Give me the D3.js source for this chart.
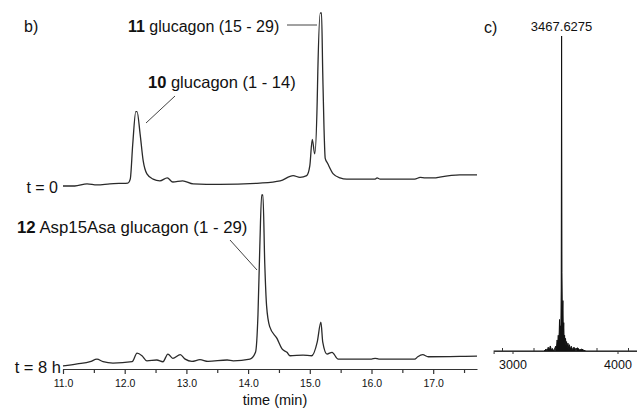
<!DOCTYPE html>
<html><head><meta charset="utf-8">
<script src="https://cdn.jsdelivr.net/npm/d3@7"></script>
<style>
html,body{margin:0;padding:0;background:#fff;}
svg text{font-family:"Liberation Sans",Arial,Helvetica,sans-serif;fill:#111;}
</style></head>
<body>
<svg id="chart" width="637" height="408"></svg>
<script>
// ---------- DATA ----------
// HPLC trace t = 0 : retention time (min) and relative absorbance
const t0Time = [11.0,11.19,11.39,11.55,11.76,11.92,12.05,12.09,12.13,12.18,12.20,12.25,12.30,12.36,12.46,12.57,12.69,12.78,12.94,13.11,13.54,14.19,14.52,14.73,14.84,14.95,15.0,15.04,15.08,15.12,15.13,15.17,15.19,15.21,15.23,15.25,15.29,15.38,15.49,15.60,16.06,16.09,16.14,16.70,16.79,16.87,17.03,17.08,17.43,17.71];
const t0Value = [0,0,1.2,0.6,1.2,1.5,1.7,4,24,43,43,30,14.5,7,4,3,4.7,2.3,3,1.2,0.9,1.7,3,6,5,6,11.6,27,18.6,49,66,100,100,65,34,16,13,7,4.7,4,4,4.7,4,4,5,4.7,4.7,5,6.4,6.4];
// HPLC trace t = 8 h
const t8Time = [11.0,11.23,11.44,11.55,11.65,11.81,12.12,12.20,12.28,12.36,12.52,12.62,12.70,12.78,12.90,12.98,13.09,13.22,13.35,13.66,13.76,14.03,14.12,14.16,14.19,14.22,14.24,14.27,14.30,14.35,14.47,14.55,14.63,14.68,14.89,15.03,15.12,15.18,15.21,15.28,15.36,15.46,16.0,16.06,16.12,16.70,16.75,16.83,16.92,17.43,17.71];
const t8Value = [0,1.2,2.5,4,2.5,1.7,2.5,7.5,6,3,3.5,2.5,7,4.5,6.6,4,2.7,3.7,2.7,3.5,3,4,8,30,70,100,100,60,35,23,16,10,8,6,6.4,6,14,25.6,14,7,8,4,4,4.5,4,4,5.4,6.6,5.4,5.6,5.8];
const timeTicks = [11,12,13,14,15,16,17];
const timeMinorTicks = [11.5,12.5,13.5,14.5,15.5,16.5,17.5];
// Mass spectrum: m/z and relative intensity
const msMz = [2820,3300,3320,3330,3340,3350,3360,3370,3380,3390,3400,3410,3418,3425,3430,3436,3440,3445,3448,3452,3456,3460,3464,3467.6,3471,3475,3480,3484,3488,3492,3496,3500,3505,3510,3515,3520,3528,3535,3542,3550,3560,3570,3585,3600,3620,3640,3660,3680,3700,4200];
const msInt = [0,0,0.6,0,1.2,0.3,1.6,0.4,0.8,0.2,0.5,1.5,0.8,3.5,2,5,2.5,6,10,4,8,5,20,100,25,10,16,6,9,3,5,2.5,4,1.5,3,1,2.5,0.8,2,0.6,1.5,0.5,1.2,0.6,1,0.3,0.6,0.2,0,0];
const msTicks = [3000,4000];
const msMinorTicks = [2900,3200,3400,3600,3800,4100];
const peakLabel = "3467.6275";

// ---------- DRAW ----------
const svg = d3.select("#chart");
const x = d3.scaleLinear().domain([11, 17.71]).range([63, 477]);
const yTop = d3.scaleLinear().domain([0, 100]).range([186, 13]);
const yBot = d3.scaleLinear().domain([0, 100]).range([366, 195]);

const lineTop = d3.line().x((d,i)=>x(t0Time[i])).y(d=>yTop(d)).curve(d3.curveMonotoneX);
const lineBot = d3.line().x((d,i)=>x(t8Time[i])).y(d=>yBot(d)).curve(d3.curveMonotoneX);

svg.append("path").attr("d", lineTop(t0Value)).attr("fill","none").attr("stroke","#2a2a2a").attr("stroke-width",1.3);
svg.append("path").attr("d", lineBot(t8Value)).attr("fill","none").attr("stroke","#2a2a2a").attr("stroke-width",1.3);

// time axis
const axisY = 369;
const ax = svg.append("g").attr("transform",`translate(0,${axisY})`)
  .call(d3.axisBottom(x).tickValues(timeTicks).tickFormat(d3.format(".1f")).tickSize(5).tickSizeOuter(0).tickPadding(6));
ax.select(".domain").attr("stroke","#333").attr("stroke-width",1.2);
ax.selectAll(".tick line").attr("stroke","#333").attr("stroke-width",1.2);
ax.selectAll(".tick text").attr("font-size","10.5px").attr("fill","#222").attr("font-family","Liberation Sans, Arial, sans-serif");
const axm = svg.append("g").attr("transform",`translate(0,${axisY})`)
  .call(d3.axisBottom(x).tickValues(timeMinorTicks).tickFormat("").tickSize(4).tickSizeOuter(0));
axm.select(".domain").remove();
axm.selectAll(".tick line").attr("stroke","#333").attr("stroke-width",1.2);

svg.append("text").attr("x",275).attr("y",405).attr("text-anchor","middle").attr("font-size","14.5px").text("time (min)");

// labels panel b
svg.append("text").attr("x",24).attr("y",32).attr("font-size","16px").text("b)");
const l11 = svg.append("text").attr("x",128).attr("y",32).attr("font-size","16px");
l11.append("tspan").attr("font-weight","bold").text("11");
l11.append("tspan").text(" glucagon (15 - 29)");
svg.append("line").attr("x1",287).attr("y1",25).attr("x2",317).attr("y2",25).attr("stroke","#444").attr("stroke-width",1);

const l10 = svg.append("text").attr("x",148).attr("y",88).attr("font-size","16.5px");
l10.append("tspan").attr("font-weight","bold").text("10");
l10.append("tspan").text(" glucagon (1 - 14)");
svg.append("line").attr("x1",175).attr("y1",96).attr("x2",146).attr("y2",123).attr("stroke","#444").attr("stroke-width",1);

const l12 = svg.append("text").attr("x",17).attr("y",233).attr("font-size","16.8px");
l12.append("tspan").attr("font-weight","bold").text("12");
l12.append("tspan").text(" Asp15Asa glucagon (1 - 29)");
svg.append("line").attr("x1",230).attr("y1",240).attr("x2",257).attr("y2",270).attr("stroke","#444").attr("stroke-width",1);

svg.append("text").attr("x",58).attr("y",193).attr("text-anchor","end").attr("font-size","16px").text("t = 0");
svg.append("text").attr("x",61).attr("y",373).attr("text-anchor","end").attr("font-size","16.5px").text("t = 8 h");

// ---------- panel c: mass spectrum ----------
const xm = d3.scaleLinear().domain([2820, 4200]).range([493.6, 638.5]);
const ym = d3.scaleLinear().domain([0, 100]).range([351, 36]);
const msArea = d3.area().x((d,i)=>xm(msMz[i])).y0(ym(0)).y1(d=>ym(d));
const msLine = d3.line().x((d,i)=>xm(msMz[i])).y(d=>ym(d));
svg.append("path").attr("d", msArea(msInt)).attr("fill","#111");
svg.append("path").attr("d", msLine(msInt)).attr("fill","none").attr("stroke","#111").attr("stroke-width",1);

const mAx = svg.append("g").attr("transform","translate(0,351)")
  .call(d3.axisBottom(xm).tickValues(msTicks).tickFormat(d3.format("d")).tickSize(3).tickSizeOuter(3).tickPadding(6));
mAx.select(".domain").attr("stroke","#333").attr("stroke-width",1);
mAx.selectAll(".tick line").attr("stroke","#333");
mAx.selectAll(".tick text").attr("font-size","12.5px").attr("fill","#222").attr("font-family","Liberation Sans, Arial, sans-serif");
const mAxm = svg.append("g").attr("transform","translate(0,351)")
  .call(d3.axisBottom(xm).tickValues(msMinorTicks).tickFormat("").tickSize(-3).tickSizeOuter(0));
mAxm.select(".domain").remove();
mAxm.selectAll(".tick line").attr("stroke","#333");

svg.append("text").attr("x",484).attr("y",33).attr("font-size","16px").text("c)");
svg.append("text").attr("x",xm(3467.6)).attr("y",31).attr("text-anchor","middle").attr("font-size","13px").attr("fill","#333").text(peakLabel);
</script>
</body></html>
